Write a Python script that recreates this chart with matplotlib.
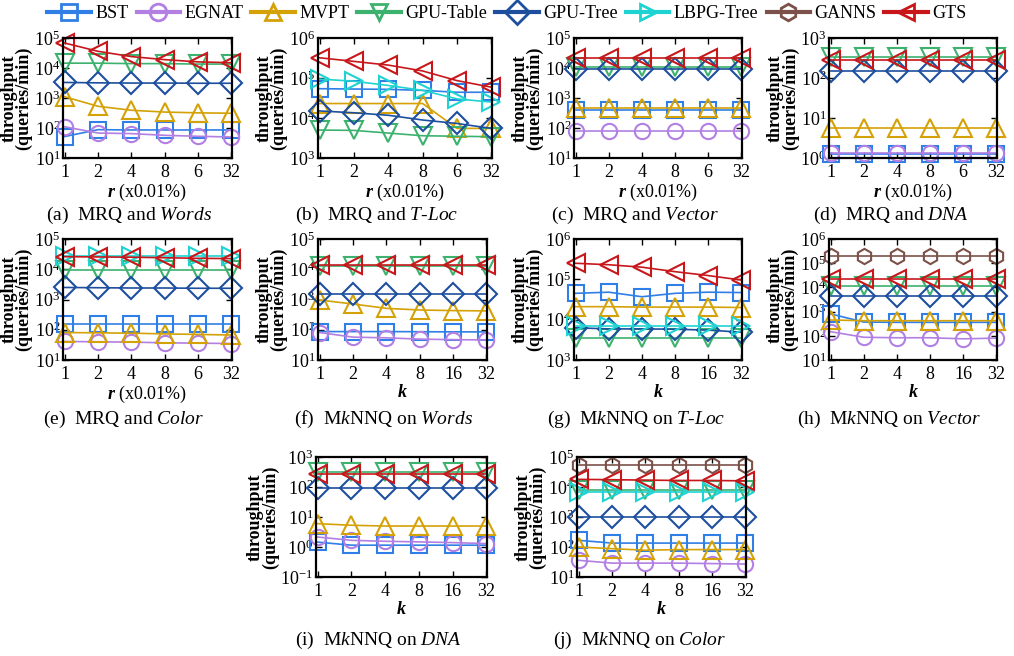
import matplotlib
matplotlib.use("Agg")
import matplotlib.pyplot as plt
from matplotlib.lines import Line2D
from matplotlib.ticker import LogLocator, NullLocator

plt.rcParams['font.family'] = ['Liberation Serif', 'DejaVu Serif']
plt.rcParams['mathtext.fontset'] = 'custom'
plt.rcParams['mathtext.rm'] = 'Liberation Serif'
plt.rcParams['mathtext.it'] = 'Liberation Serif:italic'
plt.rcParams['mathtext.bf'] = 'Liberation Serif:bold'
plt.rcParams['mathtext.bfit'] = 'Liberation Serif:bold:italic'

methods = ["BST", "EGNAT", "MVPT", "GPU-Table", "GPU-Tree", "LBPG-Tree", "GANNS", "GTS"]
colors = ["#2f7fe6", "#b27fe3", "#d4a106", "#3cb26e", "#1d4f9e", "#1fd3d3", "#7b5149", "#c8171b"]
markers = ["s", "o", "^", "v", "D", ">", "h", "<"]

r_labels = ["1", "2", "4", "8", "6", "32"]
k_labels = ["1", "2", "4", "8", "16", "32"]

# (a) MRQ and Words
mrq_words = {
    "BST": [52, 88, 86, 86, 86, 86],
    "EGNAT": [110, 68, 65, 57, 53, 50],
    "MVPT": [1100, 530, 390, 340, 320, 310],
    "GPU-Table": [14500, 14500, 14000, 14000, 13500, 13500],
    "GPU-Tree": [3300, 3200, 3150, 3150, 3100, 3100],
    "GTS": [68000, 36000, 24000, 19000, 16000, 15000],
}
# (b) MRQ and T-Loc
mrq_tloc = {
    "BST": [54000, 53000, 52000, 49000, 44000, 44000],
    "MVPT": [23000, 23000, 23000, 23000, 5500, 5500],
    "GPU-Table": [5000, 4900, 4200, 3600, 3500, 3400],
    "GPU-Tree": [15000, 13500, 11700, 8900, 7300, 5500],
    "LBPG-Tree": [94000, 83000, 65000, 49000, 30000, 25000],
    "GTS": [320000, 260000, 210000, 150000, 86000, 59000],
}
# (c) MRQ and Vector
mrq_vector = {
    "BST": [400, 400, 400, 400, 400, 400],
    "EGNAT": [78, 78, 78, 78, 78, 78],
    "MVPT": [470, 470, 470, 470, 470, 470],
    "GPU-Table": [10500, 10500, 10500, 10500, 10500, 10500],
    "GPU-Tree": [9500, 9500, 9500, 9500, 9500, 9500],
    "GTS": [22000, 22000, 22000, 22000, 22000, 22000],
}
# (d) MRQ and DNA
mrq_dna = {
    "BST": [1.25, 1.25, 1.25, 1.25, 1.25, 1.25],
    "EGNAT": [1.33, 1.33, 1.33, 1.33, 1.33, 1.33],
    "MVPT": [5.6, 5.6, 5.6, 5.6, 5.6, 5.6],
    "GPU-Table": [340, 340, 340, 340, 340, 340],
    "GPU-Tree": [152, 152, 152, 152, 152, 152],
    "GTS": [290, 290, 290, 290, 290, 290],
}
# (e) MRQ and Color
mrq_color = {
    "BST": [150, 150, 150, 150, 150, 150],
    "EGNAT": [41, 40, 39, 37, 36, 35],
    "MVPT": [81, 79, 77, 73, 70, 67],
    "GPU-Table": [9500, 9500, 9500, 9500, 9500, 9500],
    "GPU-Tree": [2500, 2450, 2400, 2400, 2350, 2350],
    "LBPG-Tree": [28000, 28000, 28000, 28000, 28000, 28000],
    "GTS": [26000, 25500, 25000, 24000, 23000, 22500],
}
# (f) MkNNQ on Words
mknn_words = {
    "BST": [87, 87, 87, 86, 85, 85],
    "EGNAT": [81, 57, 54, 49, 47, 46],
    "MVPT": [960, 710, 510, 450, 430, 420],
    "GPU-Table": [12500, 12500, 12500, 12500, 12500, 12500],
    "GPU-Tree": [1500, 1500, 1500, 1500, 1500, 1500],
    "GTS": [14000, 14000, 14000, 14000, 14000, 14000],
}
# (g) MkNNQ on T-Loc
mknn_tloc = {
    "BST": [45000, 48000, 37000, 45000, 48000, 47000],
    "MVPT": [21000, 21000, 20500, 20500, 20500, 20000],
    "GPU-Table": [3500, 3500, 3500, 3500, 3500, 3500],
    "GPU-Tree": [6300, 5900, 5900, 5800, 5500, 4900],
    "LBPG-Tree": [6800, 6800, 6800, 6800, 6800, 6800],
    "GTS": [250000, 230000, 200000, 155000, 124000, 96000],
}
# (h) MkNNQ on Vector
mknn_vector = {
    "BST": [800, 370, 360, 360, 360, 360],
    "EGNAT": [148, 87, 83, 83, 75, 80],
    "MVPT": [450, 420, 420, 420, 420, 420],
    "GPU-Table": [11000, 11000, 11000, 11000, 11000, 11000],
    "GPU-Tree": [4600, 4600, 4600, 4600, 4600, 4600],
    "GANNS": [190000, 190000, 190000, 190000, 190000, 190000],
    "GTS": [22000, 22000, 22000, 22000, 22000, 22000],
}
# (i) MkNNQ on DNA
mknn_dna = {
    "BST": [1.45, 1.15, 1.15, 1.15, 1.15, 1.15],
    "EGNAT": [2.15, 1.67, 1.55, 1.48, 1.4, 1.3],
    "MVPT": [6.0, 5.3, 5.0, 5.0, 5.0, 5.0],
    "GPU-Table": [316, 316, 316, 316, 316, 316],
    "GPU-Tree": [93, 93, 93, 93, 93, 93],
    "GTS": [280, 280, 280, 280, 280, 280],
}
# (j) MkNNQ on Color
mknn_color = {
    "BST": [167, 135, 135, 135, 135, 135],
    "EGNAT": [36, 29, 29, 29, 28, 27],
    "MVPT": [100, 88, 78, 82, 82, 82],
    "GPU-Table": [7700, 7700, 7700, 7700, 7700, 7700],
    "GPU-Tree": [1000, 1000, 1000, 1000, 1000, 1000],
    "LBPG-Tree": [6800, 6800, 6800, 6800, 6800, 6800],
    "GANNS": [53000, 53000, 53000, 53000, 53000, 53000],
    "GTS": [18000, 17500, 17000, 16500, 16500, 16000],
}

panels = [
    # data, xlabels, xlabel, ylim, caption, axes box px (l, t, r, b), caption center px
    (mrq_words, r_labels, r"$\mathbfit{r}$ (x0.01%)", (1e1, 1e5),
     r"(a)  MRQ and $\mathit{Words}$", (63, 38, 232, 158), (129, 215)),
    (mrq_tloc, r_labels, r"$\mathbfit{r}$ (x0.01%)", (1e3, 1e6),
     r"(b)  MRQ and $\mathit{T}$-$\mathit{Loc}$", (318, 38, 492, 158), (377, 215)),
    (mrq_vector, r_labels, r"$\mathbfit{r}$ (x0.01%)", (1e1, 1e5),
     r"(c)  MRQ and $\mathit{Vector}$", (574, 38, 742, 158), (635, 215)),
    (mrq_dna, r_labels, r"$\mathbfit{r}$ (x0.01%)", (1e0, 1e3),
     r"(d)  MRQ and $\mathit{DNA}$", (829, 38, 997, 158), (891, 215)),
    (mrq_color, r_labels, r"$\mathbfit{r}$ (x0.01%)", (1e1, 1e5),
     r"(e)  MRQ and $\mathit{Color}$", (63, 239, 232, 360), (124, 419)),
    (mknn_words, k_labels, r"$\mathbfit{k}$", (1e1, 1e5),
     r"(f)  M$\mathit{k}$NNQ on $\mathit{Words}$", (318, 239, 487, 360), (384, 419)),
    (mknn_tloc, k_labels, r"$\mathbfit{k}$", (1e3, 1e6),
     r"(g)  M$\mathit{k}$NNQ on $\mathit{T}$-$\mathit{Loc}$", (574, 239, 742, 360), (636, 419)),
    (mknn_vector, k_labels, r"$\mathbfit{k}$", (1e1, 1e6),
     r"(h)  M$\mathit{k}$NNQ on $\mathit{Vector}$", (829, 239, 997, 360), (889, 419)),
    (mknn_dna, k_labels, r"$\mathbfit{k}$", (1e-1, 1e3),
     r"(i)  M$\mathit{k}$NNQ on $\mathit{DNA}$", (316, 457, 487, 577), (378, 640)),
    (mknn_color, k_labels, r"$\mathbfit{k}$", (1e1, 1e5),
     r"(j)  M$\mathit{k}$NNQ on $\mathit{Color}$", (577, 457, 746, 577), (640, 640)),
]

W, H = 1014, 656
fig = plt.figure(figsize=(W / 100, H / 100), dpi=100)

for data, xl, xlab, ylim, cap, box, cpos in panels:
    l, t, r, b = box
    ax = fig.add_axes([l / W, 1 - b / H, (r - l) / W, (b - t) / H])
    x = list(range(len(xl)))
    for m, c, mk in zip(methods, colors, markers):
        if m not in data:
            continue
        ms = 11 if mk in ("D", "s", "o", "h") else 12.5
        ax.plot(x, data[m], color=c, marker=mk, markersize=ms, markerfacecolor='none',
                markeredgewidth=1.5, linewidth=1.2, clip_on=False)
    ax.set_yscale('log')
    ax.set_ylim(*ylim)
    ax.set_xlim(-0.05, 5.02)
    ax.yaxis.set_major_locator(LogLocator(base=10, numticks=12))
    ax.yaxis.set_minor_locator(NullLocator())
    ax.set_xticks(x)
    ax.set_xticklabels(xl)
    ax.tick_params(direction='in', top=True, right=True, length=4, width=1, labelsize=13)
    ax.tick_params(axis='x', pad=4)
    ax.tick_params(axis='y', pad=2)
    for s in ax.spines.values():
        s.set_linewidth(1.6)
    ax.set_xlabel(xlab, fontsize=13, labelpad=1)
    ax.set_ylabel("throughput\n(queries/min)", fontsize=13, fontweight='bold',
                  linespacing=0.85, labelpad=1)
    fig.text(cpos[0] / W, 1 - cpos[1] / H, cap, fontsize=14, ha='center', va='center')

handles = [Line2D([], [], color=c, marker=mk, markersize=12, markerfacecolor='none',
                  markeredgewidth=2, linewidth=3)
           for c, mk in zip(colors, markers)]
fig.legend(handles, methods, loc='center', bbox_to_anchor=(507 / W, 1 - 14 / H), ncol=8,
           frameon=False, fontsize=13, handlelength=2.4, handletextpad=0.25,
           columnspacing=0.45, borderaxespad=0, borderpad=0)

fig.savefig("out.png", dpi=100)
